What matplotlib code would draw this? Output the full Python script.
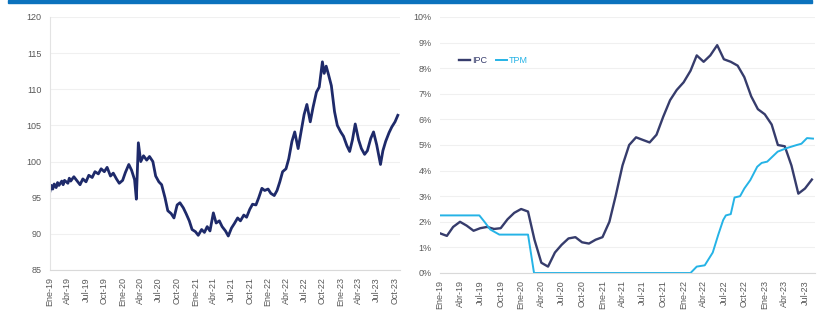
import matplotlib.pyplot as plt
import matplotlib.patches as mpatches
import pandas as pd
from matplotlib.ticker import FuncFormatter

plt.rcParams['font.family'] = ['Liberation Sans', 'DejaVu Sans']

# ---------------- datos: tipo de cambio (índice) ----------------
tc_fechas = [
    '2019-01-01', '2019-01-08', '2019-01-15', '2019-01-22', '2019-02-01', '2019-02-08',
    '2019-02-15', '2019-03-01', '2019-03-08', '2019-03-15', '2019-04-01', '2019-04-08',
    '2019-04-15', '2019-05-01', '2019-05-15', '2019-06-01', '2019-06-15',
    '2019-07-01', '2019-07-15', '2019-08-01', '2019-08-15', '2019-09-01', '2019-09-15',
    '2019-10-01', '2019-10-15', '2019-11-01', '2019-11-15', '2019-12-01', '2019-12-15',
    '2020-01-01', '2020-01-15', '2020-02-01', '2020-02-15', '2020-03-01', '2020-03-10',
    '2020-03-20', '2020-04-01', '2020-04-15', '2020-05-01', '2020-05-15', '2020-06-01',
    '2020-06-15', '2020-07-01', '2020-07-15', '2020-08-01', '2020-08-15', '2020-09-01',
    '2020-09-15', '2020-10-01', '2020-10-15', '2020-11-01', '2020-11-15', '2020-12-01',
    '2020-12-15', '2021-01-01', '2021-01-15', '2021-02-01', '2021-02-15', '2021-03-01',
    '2021-03-15', '2021-04-01', '2021-04-15', '2021-05-01', '2021-05-15', '2021-06-01',
    '2021-06-15', '2021-07-01', '2021-07-15', '2021-08-01', '2021-08-15', '2021-09-01',
    '2021-09-15', '2021-10-01', '2021-10-15', '2021-11-01', '2021-11-15', '2021-12-01',
    '2021-12-15', '2022-01-01', '2022-01-15', '2022-02-01', '2022-02-15', '2022-03-01',
    '2022-03-15', '2022-04-01', '2022-04-15', '2022-05-01', '2022-05-15', '2022-06-01',
    '2022-06-15', '2022-07-01', '2022-07-15', '2022-08-01', '2022-08-15', '2022-09-01',
    '2022-09-15', '2022-10-01', '2022-10-10', '2022-10-20', '2022-11-01', '2022-11-15',
    '2022-12-01', '2022-12-15', '2023-01-01', '2023-01-15', '2023-02-01', '2023-02-15',
    '2023-03-01', '2023-03-15', '2023-04-01', '2023-04-15', '2023-05-01', '2023-05-15',
    '2023-06-01', '2023-06-15', '2023-07-01', '2023-07-20', '2023-08-01', '2023-08-15',
    '2023-09-01', '2023-09-15', '2023-10-01', '2023-10-15',
]
tc_valores = [
    95.9, 96.7, 96.2, 96.9, 96.4, 97.1,
    96.7, 97.3, 96.8, 97.4, 97.0, 97.7,
    97.3, 97.9, 97.4, 96.8, 97.6,
    97.2, 98.1, 97.8, 98.6, 98.3, 99.0,
    98.6, 99.2, 98.0, 98.4, 97.6, 97.0,
    97.4, 98.5, 99.6, 98.8, 97.5, 94.8,
    102.6, 100.0, 100.8, 100.2, 100.7, 100.0,
    98.0, 97.2, 96.8, 95.0, 93.2, 92.8,
    92.2, 94.0, 94.3, 93.6, 92.8, 91.8,
    90.6, 90.3, 89.8, 90.6, 90.2, 91.0,
    90.4, 92.9, 91.5, 91.8, 91.0, 90.4,
    89.7, 90.8, 91.4, 92.2, 91.8, 92.6,
    92.3, 93.4, 94.1, 94.0, 95.0, 96.3,
    96.0, 96.2, 95.6, 95.3, 96.0, 97.2,
    98.6, 99.0, 100.4, 102.8, 104.1, 101.8,
    104.0, 106.5, 107.9, 105.5, 107.5, 109.6,
    110.3, 113.8, 112.2, 113.2, 112.0, 110.5,
    106.9, 105.0, 104.1, 103.5, 102.2, 101.4,
    103.0, 105.2, 103.0, 101.8, 101.0, 101.5,
    103.2, 104.1, 102.3, 99.6, 101.5, 102.8,
    104.0, 104.8, 105.5, 106.4,
]

# ---------------- datos: inflación (IPC) y tasa de política (TPM) ----------------
ipc_fechas = pd.date_range('2019-01-01', periods=56, freq='MS')
ipc_valores = [
    1.55, 1.45, 1.8, 2.0, 1.85, 1.65, 1.75, 1.8, 1.72, 1.75, 2.1, 2.35,
    2.5, 2.4, 1.3, 0.4, 0.25, 0.8, 1.1, 1.35, 1.4, 1.2, 1.15, 1.3,
    1.4, 2.0, 3.0, 4.2, 5.0, 5.3, 5.2, 5.1, 5.4, 6.1, 6.75, 7.15,
    7.45, 7.9, 8.5, 8.25, 8.5, 8.9, 8.35, 8.25, 8.1, 7.65, 6.9, 6.4,
    6.2, 5.8, 5.0, 4.95, 4.2, 3.1, 3.3, 3.65,
]

tpm_fechas = [
    '2019-01-01', '2019-06-27', '2019-07-20', '2019-08-15', '2019-09-25', '2020-02-01',
    '2020-02-28', '2022-02-01', '2022-03-01', '2022-04-06', '2022-05-12', '2022-06-06',
    '2022-06-28', '2022-07-10', '2022-08-01', '2022-08-18', '2022-09-12', '2022-10-01',
    '2022-10-28', '2022-11-28', '2022-12-18', '2023-01-12', '2023-02-28', '2023-04-10',
    '2023-05-25', '2023-06-15', '2023-07-10', '2023-08-06',
]
tpm_valores = [
    2.25, 2.25, 2.0, 1.7, 1.5, 1.5,
    0.0, 0.0, 0.25, 0.3, 0.8, 1.5,
    2.07, 2.25, 2.3, 2.95, 3.0, 3.3,
    3.63, 4.15, 4.3, 4.35, 4.74, 4.88,
    5.0, 5.05, 5.27, 5.25,
]

meses = {1: 'Ene', 4: 'Abr', 7: 'Jul', 10: 'Oct'}
etiqueta = lambda d: '%s-%s' % (meses[d.month], d.strftime('%y'))

gris_txt = '#595959'
azul_osc = '#1e2a6a'
azul_ipc = '#363c6c'
celeste = '#25b3e6'

fig = plt.figure(figsize=(8.17, 3.2), dpi=100)

# franja azul superior
fig.patches.append(mpatches.Rectangle((8 / 817, 1 - 3 / 320), 804 / 817, 3 / 320,
                                      transform=fig.transFigure, color='#0b72bd', zorder=5))

def formato_ejes(ax, ticks):
    ax.set_xticks(ticks)
    ax.set_xticklabels([etiqueta(t) for t in ticks], rotation=90, fontsize=6.5, color=gris_txt)
    ax.tick_params(axis='both', length=0, labelsize=6.5, labelcolor=gris_txt)
    ax.tick_params(axis='x', pad=5)
    ax.tick_params(axis='y', pad=6)
    for s in ['top', 'right']:
        ax.spines[s].set_visible(False)
    ax.spines['bottom'].set_color('#d9d9d9')
    ax.spines['bottom'].set_linewidth(0.8)
    ax.grid(axis='y', color='#f0f0f0', linewidth=0.8)
    ax.set_axisbelow(True)

# -------- gráfico izquierdo --------
ax1 = fig.add_axes([50 / 817, 50 / 320, 350 / 817, 253 / 320])
ax1.plot(pd.to_datetime(tc_fechas), tc_valores, color=azul_osc, linewidth=2.0)
ax1.set_ylim(85, 120)
ax1.set_yticks(range(85, 121, 5))
ax1.set_xlim(pd.Timestamp('2019-01-01'), pd.Timestamp('2023-10-26'))
formato_ejes(ax1, pd.date_range('2019-01-01', '2023-10-01', freq='QS'))
ax1.spines['left'].set_color('#e3e3e3')
ax1.spines['left'].set_linewidth(0.8)

# -------- gráfico derecho --------
ax2 = fig.add_axes([440 / 817, 47 / 320, 375 / 817, 256 / 320])
ax2.plot(ipc_fechas, ipc_valores, color=azul_ipc, linewidth=1.7, label='IPC')
ax2.plot(pd.to_datetime(tpm_fechas), tpm_valores, color=celeste, linewidth=1.4, label='TPM')
ax2.set_ylim(0, 10)
ax2.set_yticks(range(0, 11))
ax2.yaxis.set_major_formatter(FuncFormatter(lambda v, p: '%d%%' % v))
ax2.set_xlim(pd.Timestamp('2019-01-01'), pd.Timestamp('2023-08-15'))
formato_ejes(ax2, pd.date_range('2019-01-01', '2023-07-01', freq='QS'))
ax2.spines['left'].set_visible(False)

leg = ax2.legend(loc='upper left', bbox_to_anchor=(0.03, 0.88), ncol=2, frameon=False,
                 fontsize=6.5, handlelength=1.2, handletextpad=0.2, columnspacing=1.0)
for txt, linea in zip(leg.get_texts(), leg.get_lines()):
    txt.set_color(linea.get_color())

plt.savefig('out.png', dpi=100)
